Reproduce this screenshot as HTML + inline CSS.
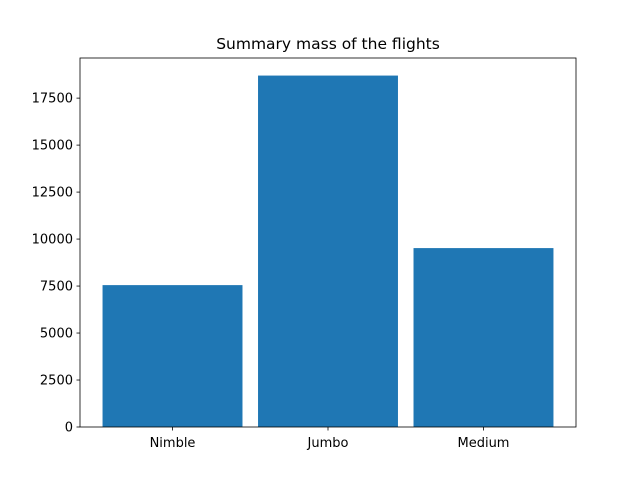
<!DOCTYPE html>
<html><head><meta charset="utf-8"><style>
body{margin:0;background:#fff}
svg{display:block;font-family:"DejaVu Sans","Liberation Sans",sans-serif}
</style></head><body>
<svg id="c" width="640" height="480"></svg>
<script>
const categories = ["Nimble","Jumbo","Medium"];
const values = [7550,18700,9520];
const yTicks = [0,2500,5000,7500,10000,12500,15000,17500];
const title = "Summary mass of the flights";

const NS="http://www.w3.org/2000/svg";
const svg=document.getElementById('c');
const L=80,R=576,T=58,B=427;
const yMax=Math.max(...values)*1.05;
const xMin=-0.45-0.145*(categories.length-1+0.9)/2.9, xMax=categories.length-1+0.45+0.145*(categories.length-1+0.9)/2.9;
const xs=v=>L+(v-xMin)/(xMax-xMin)*(R-L);
const ys=v=>B-v/yMax*(B-T);
function el(tag,attrs,parent){const e=document.createElementNS(NS,tag);for(const k in attrs)e.setAttribute(k,attrs[k]);(parent||svg).appendChild(e);return e;}

categories.forEach((c,i)=>{
  const r=el('rect',{x:xs(i-0.45),y:ys(values[i]),width:xs(i+0.45)-xs(i-0.45),height:B-ys(values[i]),fill:'#1f77b4'});
  
  
  const tk=el('line',{x1:xs(i),x2:xs(i),y1:B,y2:B+3.5,stroke:'#000','stroke-width':0.8});
  
  
  const t=el('text',{x:xs(i),y:B+20,'text-anchor':'middle','font-size':13,fill:'#000'});
  t.textContent=c;
  
  
});
yTicks.forEach(v=>{
  const tk=el('line',{x1:L-3.5,x2:L,y1:ys(v),y2:ys(v),stroke:'#000','stroke-width':0.8});
  
  
  const t=el('text',{x:L-7,y:ys(v)+4.5,'text-anchor':'end','font-size':13,fill:'#000'});
  t.textContent=v;
  
  
});
const f=el('rect',{x:L,y:T,width:R-L,height:B-T,fill:'none',stroke:'#000','stroke-width':0.8});


const tt=el('text',{x:(L+R)/2,y:T-9,'text-anchor':'middle','font-size':15.5,fill:'#000'});
tt.textContent=title;


</script>
</body></html>
